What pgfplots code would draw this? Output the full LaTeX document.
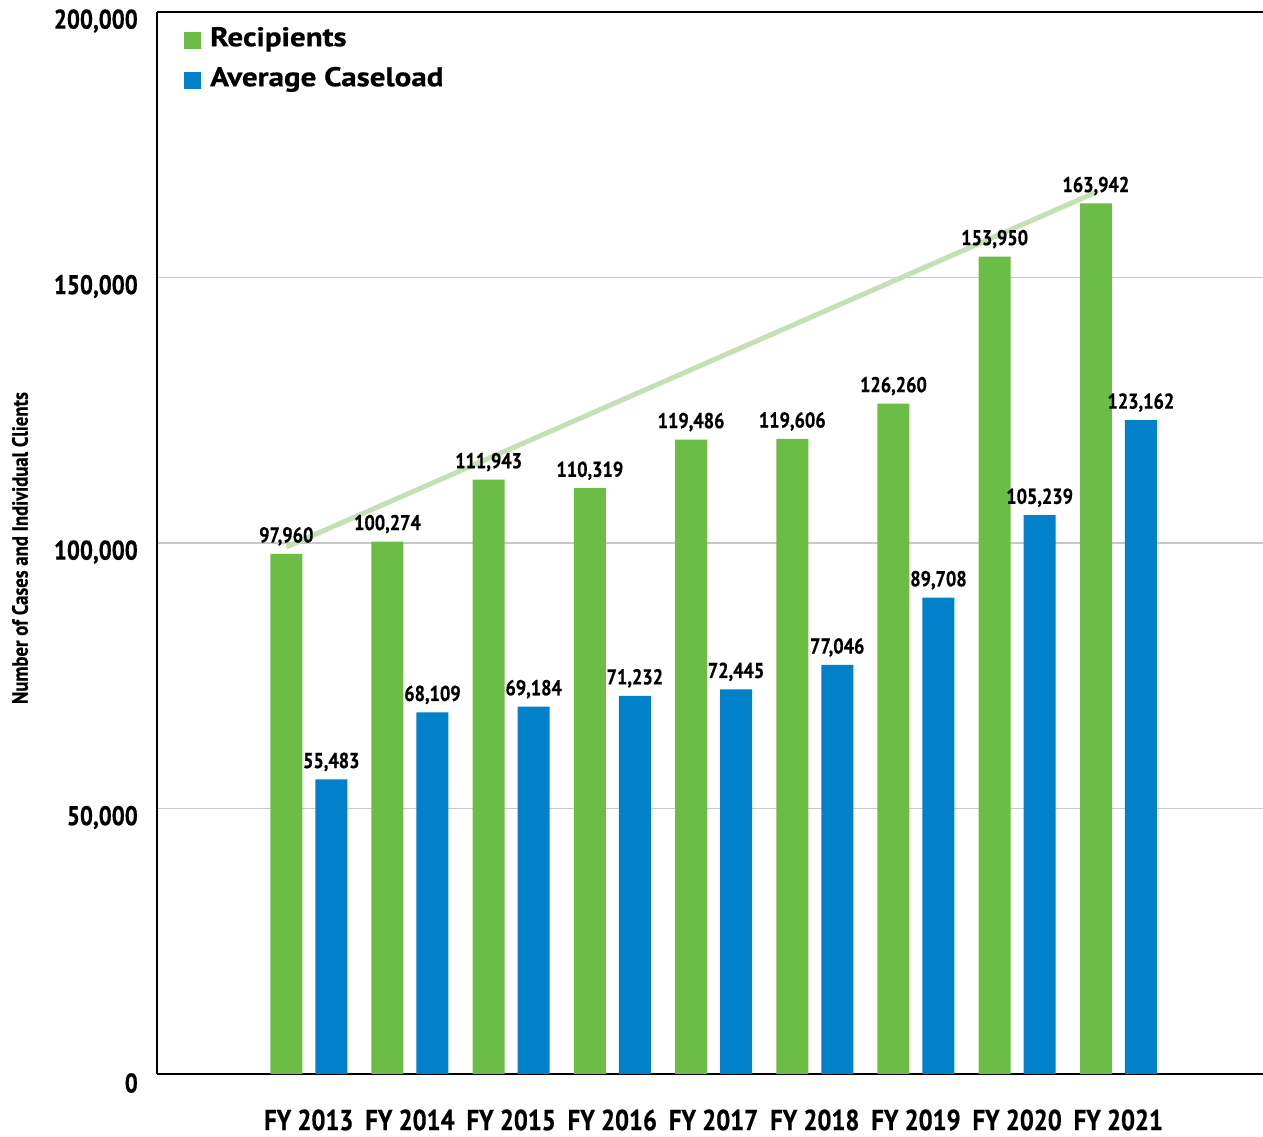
\documentclass[border=0pt]{standalone}
\usepackage{pgfplots}
\pgfplotsset{compat=1.18}
\usepackage{fontspec}
\setmainfont{PT Sans}
\newfontfamily\condf{PT Sans}[FakeStretch=0.85, BoldFeatures={FakeBold=0.6}]
\newfontfamily\widef{PT Sans}[FakeStretch=1.15, BoldFeatures={FakeBold=0.6}]
\definecolor{mygreen}{RGB}{108,189,69}
\definecolor{myblue}{RGB}{0,129,201}
\definecolor{trend}{RGB}{197,224,180}
\definecolor{gridc}{RGB}{200,200,200}
\begin{document}
\begin{tikzpicture}
\begin{axis}[
  scale only axis,
  width=1106pt, height=1062pt,
  xmin=-1.5, xmax=9.43,
  ymin=0, ymax=200000,
  axis x line*=bottom, axis y line*=left,
  axis line style={black, line width=1.5pt},
  xtick={0,...,8},
  xticklabels={FY 2013,FY 2014,FY 2015,FY 2016,FY 2017,FY 2018,FY 2019,FY 2020,FY 2021},
  ytick={0,50000,100000,150000,200000},
  major tick length=0pt,
  ymajorgrids,
  grid style={gridc, line width=1.3pt},
  scaled y ticks=false,
  /pgf/number format/.cd, fixed, 1000 sep={,}, assume math mode=true,
  /pgfplots/.cd,
  yticklabel style={font=\condf\bfseries\fontsize{27}{30}\selectfont, anchor=east, inner sep=0pt, xshift=-19pt, yshift=-9pt},
  xticklabel style={font=\condf\bfseries\fontsize{29}{32}\selectfont, anchor=center, inner sep=0pt, yshift=-46pt},
  ylabel={Number of Cases and Individual Clients},
  every axis y label/.style={at={(rel axis cs:0,0.5)}, xshift=-137pt, yshift=-5pt, rotate=90, anchor=center, font=\condf\bfseries\fontsize{22}{25}\selectfont},
  legend style={at={(axis description cs:0,1)}, anchor=north west, xshift=24pt, yshift=-13pt, draw=none, fill=none,
    font=\widef\bfseries\fontsize{27}{30}\selectfont, row sep=14pt,
    nodes={inner sep=0pt, text height=19pt, text depth=7pt},
    /tikz/every odd column/.append style={column sep=9pt}},
  legend cell align=left,
  clip=false,
]
\addplot[sharp plot, trend, line width=5pt, forget plot] coordinates {(-0.222,99245) (7.778,166038)};
\addplot[ybar, bar width=32pt, bar shift=-22.5pt, fill=mygreen, draw=none,
  legend image code/.code={\fill[mygreen] (0pt,-8.5pt) rectangle (17pt,8.5pt);},
  nodes near coords, every node near coord/.append style={font=\condf\bfseries\fontsize{21.5}{24}\selectfont, black, inner sep=2pt, yshift=6pt, xshift=-22.5pt}]
  coordinates {(0,97960) (1,100274) (2,111943) (3,110319) (4,119486) (5,119606) (6,126260) (7,153950) (8,163942)};
\addlegendentry{Recipients}
\addplot[ybar, bar width=32pt, bar shift=22.5pt, fill=myblue, draw=none,
  legend image code/.code={\fill[myblue] (0pt,-8.5pt) rectangle (17pt,8.5pt);},
  nodes near coords, every node near coord/.append style={font=\condf\bfseries\fontsize{21.5}{24}\selectfont, black, inner sep=2pt, yshift=6pt, xshift=22.5pt}]
  coordinates {(0,55483) (1,68109) (2,69184) (3,71232) (4,72445) (5,77046) (6,89708) (7,105239) (8,123162)};
\addlegendentry{Average Caseload}
\draw[black, line width=1.5pt] (rel axis cs:0,1) -- (rel axis cs:1,1);
\end{axis}
\pgfresetboundingbox
\useasboundingbox (-157pt,-63pt) rectangle (1106pt,1074pt);
\end{tikzpicture}
\end{document}
